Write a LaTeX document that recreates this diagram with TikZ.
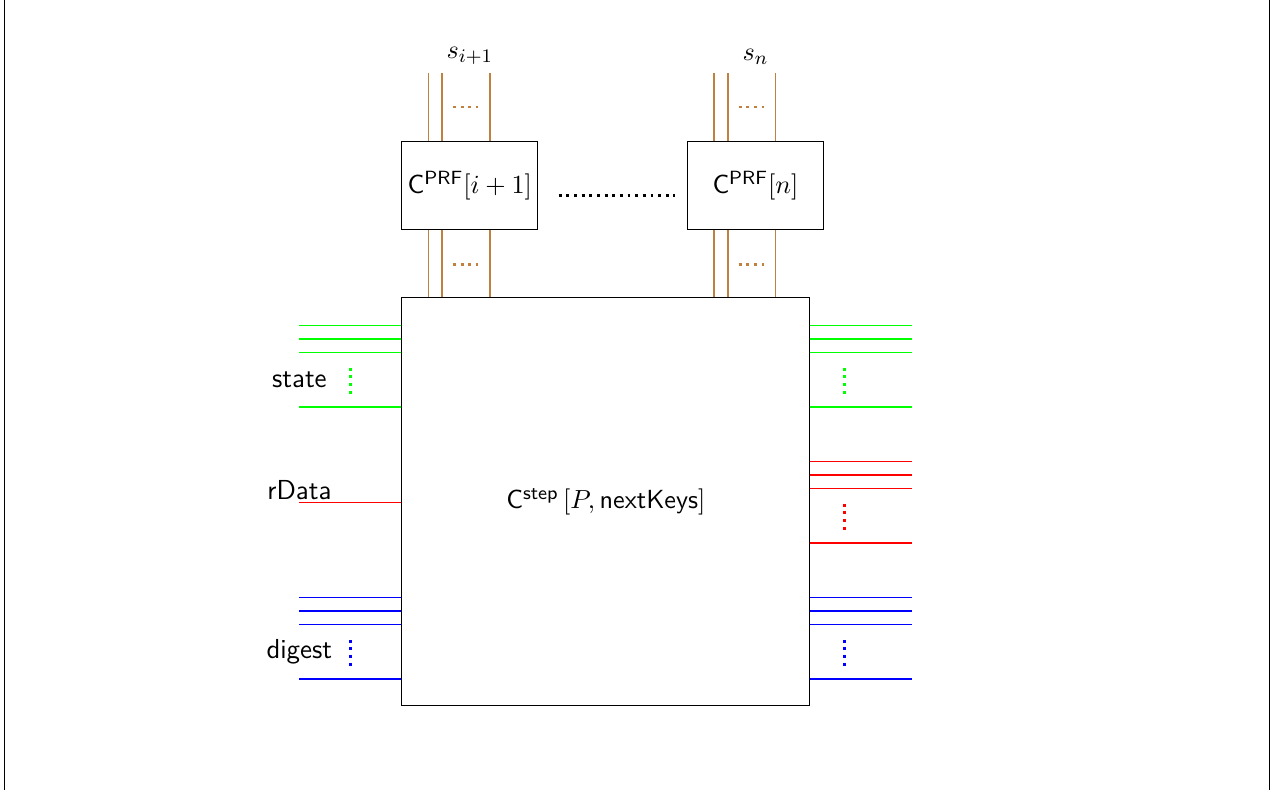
\documentclass[tikz,border=0pt]{standalone}
\usepackage{amsmath, amssymb}
\usetikzlibrary{positioning, calc}

\begin{document}
\begin{tikzpicture}[
    font=\fontsize{11}{13.6}\selectfont,
    circuit/.style={draw, minimum width=6cm, minimum height=6cm, inner sep=0pt},
    prfbox/.style={draw, minimum width=2cm, minimum height=1.3cm, inner sep=0pt},
    wire/.style={line width=0.6pt},
    wiredots/.style={very thick, dotted},
    wirelabel/.style={font=\fontsize{11.5}{14}\selectfont\sffamily}
]
    \useasboundingbox (-5.91,-1.235) rectangle (12.84,10.38);
    % sides of the frame
    \draw[line width=0.6pt] (-5.84,-1.235) -- (-5.84,10.38);
    \draw[line width=0.6pt] (12.76,-1.235) -- (12.76,10.38);

    % the circuits
    \node[circuit] (step) at (3,3) {$\mathsf{C}^{\mathsf{step}}\left[P, \mathsf{nextKeys}\right]$};
    \node[prfbox] (prf1) at (1,7.65) {$\mathsf{C}^{\mathsf{PRF}}[i+1]$};
    \node[prfbox] (prfn) at (5.2,7.65) {$\mathsf{C}^{\mathsf{PRF}}[n]$};
    \draw[wiredots] ($(prf1.east)+(0.3,-0.14)$) -- ($(prfn.west)+(-0.17,-0.14)$);

    % key wires between the PRF circuits and C^step
    \foreach \p in {prf1, prfn} {
        \foreach \dx in {0.4, 0.6, 1.3} {
            \draw[wire, brown] ($(\p.south west)+(\dx,0)$) coordinate (a) -- (a |- step.north);
            \draw[wire, brown] ($(\p.north west)+(\dx,0)$) -- ++(0,1);
        }
        \draw[brown, wiredots] ($(\p.south west)+(0.76,-0.5)$) -- ++(0.37,0);
        \draw[brown, wiredots] ($(\p.north west)+(0.76,0.5)$) -- ++(0.37,0);
    }
    \node[above] (s1) at ($(prf1.north)+(0,1)$) {$s_{i+1}$};
    \node[above] (sn) at ($(prfn.north)+(0,1)$) {$s_n$};

    % input wires (left) and output wires (right)
    \foreach \y in {5.6, 5.4, 5.2, 4.4} {
        \draw[wire, green] ($(step.south west)+(0,\y)$) -- ++(-1.5,0);
        \draw[wire, green] ($(step.south east)+(0,\y)$) -- ++(1.5,0);
    }
    \foreach \y in {1.6, 1.4, 1.2, 0.4} {
        \draw[wire, blue] ($(step.south west)+(0,\y)$) -- ++(-1.5,0);
        \draw[wire, blue] ($(step.south east)+(0,\y)$) -- ++(1.5,0);
    }
    \foreach \y in {3.6, 3.4, 3.2, 2.4}
        \draw[wire, red] ($(step.south east)+(0,\y)$) -- ++(1.5,0);
    \draw[wire, red] ($(step.south west)+(0,3)$) coordinate (rin) -- ++(-1.5,0) coordinate (rend);

    % vertical dots
    \draw[green, wiredots] ($(step.south west)+(-0.75,4.6)$) -- ++(0,0.4);
    \draw[green, wiredots] ($(step.south east)+(0.5,4.6)$) -- ++(0,0.4);
    \draw[red, wiredots] ($(step.south east)+(0.5,2.6)$) -- ++(0,0.4);
    \draw[blue, wiredots] ($(step.south west)+(-0.75,0.6)$) -- ++(0,0.4);
    \draw[blue, wiredots] ($(step.south east)+(0.5,0.6)$) -- ++(0,0.4);

    % wire labels
    \node[wirelabel] (statelbl) at ($(step.south west)+(-1.5,4.8)$) {state};
    \node[wirelabel, above, inner sep=1pt] (rdatalbl) at (rend) {rData};
    \node[wirelabel] (digestlbl) at ($(step.south west)+(-1.5,0.8)$) {digest};
\end{tikzpicture}
\end{document}
